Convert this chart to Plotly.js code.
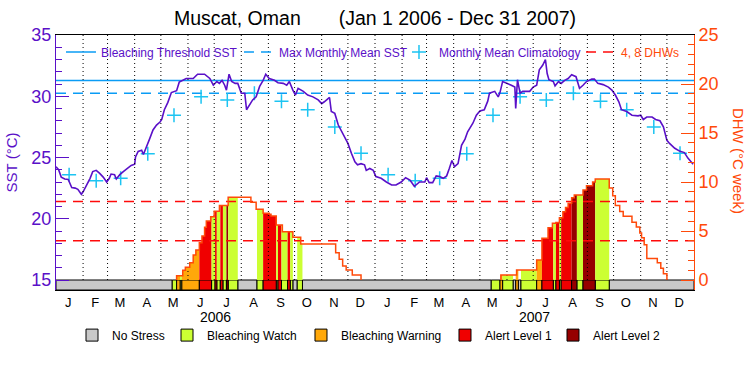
<!DOCTYPE html>
<html><head><meta charset="utf-8">
<script src="https://cdn.plot.ly/plotly-3.0.1.min.js"></script>
<style>html,body{margin:0;padding:0;background:#fff;}#chart{width:750px;height:375px;}</style>
</head><body><div id="chart"></div>
<script>
// ---------------- DATA ----------------
const periodStart = '2006-01-01';
const periodEnd = '2008-01-01';
const sstDates = ['2006-01-01','2006-01-04','2006-01-07','2006-01-11','2006-01-15','2006-01-19','2006-01-23','2006-01-26','2006-01-30','2006-02-01','2006-02-05','2006-02-09','2006-02-12','2006-02-16','2006-02-20','2006-02-24','2006-02-28','2006-03-03','2006-03-05','2006-03-09','2006-03-11','2006-03-15','2006-03-19','2006-03-24','2006-03-28','2006-04-01','2006-04-02','2006-04-05','2006-04-09','2006-04-11','2006-04-15','2006-04-18','2006-04-22','2006-04-26','2006-04-30','2006-05-02','2006-05-05','2006-05-09','2006-05-13','2006-05-19','2006-05-22','2006-05-26','2006-05-30','2006-06-07','2006-06-12','2006-06-20','2006-06-26','2006-06-30','2006-07-04','2006-07-07','2006-07-10','2006-07-13','2006-07-15','2006-07-18','2006-07-21','2006-07-25','2006-07-28','2006-08-01','2006-08-05','2006-08-07','2006-08-11','2006-08-14','2006-08-18','2006-08-22','2006-08-26','2006-08-29','2006-09-02','2006-09-08','2006-09-12','2006-09-18','2006-09-22','2006-09-25','2006-09-29','2006-10-02','2006-10-05','2006-10-11','2006-10-16','2006-10-22','2006-10-28','2006-11-01','2006-11-04','2006-11-10','2006-11-12','2006-11-16','2006-11-20','2006-11-25','2006-12-01','2006-12-05','2006-12-09','2006-12-12','2006-12-16','2006-12-20','2006-12-22','2006-12-26','2006-12-30',
'2007-01-02','2007-01-08','2007-01-14','2007-01-20','2007-01-25','2007-01-31','2007-02-05','2007-02-10','2007-02-15','2007-02-21','2007-02-27','2007-03-01','2007-03-04','2007-03-08','2007-03-12','2007-03-16','2007-03-20','2007-03-24','2007-03-27','2007-03-30','2007-04-02','2007-04-06','2007-04-10','2007-04-14','2007-04-17','2007-04-23','2007-04-27','2007-05-01','2007-05-06','2007-05-10','2007-05-12','2007-05-18','2007-05-22','2007-05-24','2007-05-27','2007-06-02','2007-06-06','2007-06-10','2007-06-11','2007-06-13','2007-06-16','2007-06-19','2007-06-27','2007-07-01','2007-07-05','2007-07-08','2007-07-12','2007-07-15','2007-07-17','2007-07-19','2007-07-24','2007-07-26','2007-07-30','2007-08-02','2007-08-06','2007-08-10','2007-08-14','2007-08-19','2007-08-23','2007-08-27','2007-08-31','2007-09-06','2007-09-09','2007-09-13','2007-09-19','2007-09-25','2007-09-29','2007-10-03','2007-10-07','2007-10-10','2007-10-16','2007-10-22','2007-10-29','2007-11-01','2007-11-04','2007-11-08','2007-11-14','2007-11-18','2007-11-23','2007-11-27','2007-12-01','2007-12-04','2007-12-10','2007-12-16','2007-12-21','2007-12-25','2007-12-29','2007-12-31'];
const sstValues = [24.25,24.0,23.4,23.25,23.2,22.55,22.5,22.4,22.0,22.2,22.75,23.3,23.85,23.95,23.7,23.4,23.0,23.3,23.65,23.6,23.25,23.6,23.85,24.1,24.35,24.45,25.05,25.5,25.6,25.25,25.9,26.5,27.25,27.65,27.9,28.1,28.9,29.5,30.3,30.45,31.15,31.3,31.45,31.45,31.8,31.8,31.45,30.9,31.2,31.05,31.3,30.9,30.5,31.8,31.2,31.05,31.05,30.25,30.25,28.9,29.3,29.7,29.95,30.8,31.3,31.8,31.45,31.3,31.1,31.05,30.9,31.2,30.5,30.1,30.65,30.4,30.1,29.95,29.7,29.4,29.55,29.9,28.75,28.6,27.65,26.95,26.15,25.35,24.65,24.4,24.5,24.4,23.95,24.1,23.95,
23.45,23.3,23.0,22.75,22.75,23.0,23.35,23.15,22.65,23.0,23.0,23.35,22.95,22.95,23.5,23.45,23.3,23.5,24.1,24.75,24.25,24.5,26.0,26.5,27.1,27.8,28.45,28.8,28.9,29.6,30.25,30.4,29.95,30.3,31.2,31.05,30.9,30.75,29.0,31.35,30.25,30.4,30.4,30.75,30.9,32.15,32.55,33.0,31.85,31.35,31.2,30.85,31.2,31.05,31.3,31.45,31.75,31.6,30.65,30.9,31.2,31.4,31.4,31.05,30.95,30.75,30.5,30.1,29.55,28.9,28.75,28.45,28.4,28.45,28.1,28.3,28.3,28.1,28.0,27.5,26.4,26.15,25.75,25.5,25.4,24.95,24.65,24.45];

const climMonthDay = 16;
const climValues = [23.6,23.1,23.3,25.3,28.45,29.95,29.7,30.25,29.6,28.9,27.5,25.35];
const climYears = [2006, 2007];

const maxMonthlyMean = 30.25;
const bleachingThreshold = 31.28;
const dhwLevels = [4, 8];

const dhwDates = ['2006-05-19','2006-05-26','2006-05-29','2006-06-03','2006-06-07','2006-06-10','2006-06-14','2006-06-17','2006-06-20','2006-06-22','2006-06-27','2006-07-01','2006-07-07','2006-07-17','2006-08-12','2006-08-18','2006-08-26','2006-09-02','2006-09-04','2006-09-10','2006-09-17','2006-09-29','2006-10-08','2006-11-17','2006-11-21','2006-11-25','2006-11-29','2006-12-06','2006-12-16',
'2007-05-25','2007-06-12','2007-07-05','2007-07-11','2007-07-18','2007-07-23','2007-07-27','2007-07-31','2007-08-04','2007-08-07','2007-08-10','2007-08-14','2007-08-17','2007-08-27','2007-08-31','2007-09-07','2007-09-10','2007-09-26','2007-09-30','2007-10-03','2007-10-08','2007-10-12','2007-10-22','2007-10-27','2007-10-31','2007-11-02','2007-11-05','2007-11-08','2007-11-20','2007-11-24','2007-11-27','2007-12-01'];
const dhwValues = [0.44,1.0,1.3,1.77,2.55,3.06,3.81,4.5,5.37,6.02,6.46,7.01,7.59,8.44,7.93,7.21,6.8,6.7,6.53,5.6,4.93,4.35,3.67,2.79,2.11,1.43,1.02,0.51,0,
0.5,1.02,2.04,4.25,5.34,5.78,5.88,6.35,6.97,7.41,7.82,8.4,8.67,9.18,9.63,10.0,10.3,9.4,8.6,7.6,7.0,6.5,5.9,5.4,4.8,4.3,3.6,2.2,1.75,1.2,0.65,0];

// status: 0 No Stress, 1 Watch, 2 Warning, 3 Alert 1, 4 Alert 2
const statusStart = ['2006-01-01','2006-05-14','2006-05-19','2006-05-23','2006-05-25','2006-06-14','2006-06-28','2006-07-02','2006-07-04','2006-07-08','2006-07-11','2006-07-15','2006-07-17','2006-07-28','2006-08-19','2006-08-26','2006-09-10','2006-09-12','2006-09-16','2006-09-23','2006-09-26','2006-09-29','2006-10-04','2006-10-10',
'2007-05-14','2007-05-24','2007-05-27','2007-06-08','2007-06-11','2007-06-14','2007-06-17','2007-07-05','2007-07-11','2007-07-24','2007-07-27','2007-07-31','2007-08-02','2007-08-14','2007-08-20','2007-08-27','2007-09-10','2007-09-26'];
const statusEnd = ['2006-05-14','2006-05-19','2006-05-23','2006-05-25','2006-06-14','2006-06-28','2006-07-02','2006-07-04','2006-07-08','2006-07-11','2006-07-15','2006-07-17','2006-07-28','2006-08-19','2006-08-26','2006-09-10','2006-09-12','2006-09-16','2006-09-23','2006-09-26','2006-09-29','2006-10-04','2006-10-10','2007-05-14',
'2007-05-24','2007-05-27','2007-06-08','2007-06-11','2007-06-14','2007-06-17','2007-07-05','2007-07-11','2007-07-24','2007-07-27','2007-07-31','2007-08-02','2007-08-14','2007-08-20','2007-08-27','2007-09-10','2007-09-26','2008-01-01'];
const statusLevel = [0,1,2,1,2,3,1,3,1,3,1,4,1,0,1,3,1,3,1,3,1,0,1,0,
1,2,1,0,2,0,1,2,3,1,3,1,3,4,1,4,1,0];
const statusNames = ['No Stress','Bleaching Watch','Bleaching Warning','Alert Level 1','Alert Level 2'];

const monthLetters = ['J','F','M','A','M','J','J','A','S','O','N','D'];
const yearLabels = ['2006','2007'];

// ---------------- STYLE ----------------
const FONT = 'Liberation Sans, Arial, sans-serif';
const PURPLE = '#5a10c8';
const ORANGE = '#ff4a0a';
const BLUE = '#0a9cf5';
const CYAN = '#1cc4f2';
const RED = '#ff0a0a';
const statusColors = ['#c8c8c8','#ccff33','#ffa80a','#f00000','#960000'];
const fillColors = [null,'#ccff33','#ffa80a','#f00000','#960000'];
const Y1MAX = 35, Y1MIN = 15 - 10/12.25;
const Y2MAX = 25, Y2MIN = -10/9.8;
const topLegendX = [0.0078, 0.2868, 0.5376, 0.8229];
const botLegendX = [0.0251, 0.1740, 0.3840, 0.6097, 0.7790];

const ms = s => Date.parse(s);
const t0 = ms(periodStart), t1 = ms(periodEnd);

const traces = [];

// --- DHW fills by status (y2) ---
const dT = dhwDates.map(ms);
function dhwAt(t){ let v = 0; for (let i=0;i<dT.length;i++){ if (dT[i] <= t) v = dhwValues[i]; } return v; }
for (let k=0;k<statusStart.length;k++){
  const lvl = statusLevel[k];
  if (!fillColors[lvl]) continue;
  const s = ms(statusStart[k]), e = ms(statusEnd[k]);
  const xs=[s], ys=[dhwAt(s)];
  for (let i=0;i<dT.length;i++){ if (dT[i]>s && dT[i]<e){ xs.push(dT[i]); ys.push(dhwValues[i]); } }
  xs.push(e); ys.push(dhwAt(e-1));
  traces.push({type:'scatter', x:xs, y:ys, yaxis:'y2', mode:'lines', line:{shape:'hv', width:0},
    fill:'tozeroy', fillcolor:fillColors[lvl], showlegend:false, hoverinfo:'skip'});
}

// --- month grid (dotted), above fills ---
const gx=[], gy=[];
for (let y=2006;y<=2007;y++) for (let m=0;m<12;m++){
  const t = Date.UTC(y,m,1);
  if (t<=t0) continue;
  gx.push(t,t,null); gy.push(0,Y2MAX,null);
}
traces.push({type:'scatter', x:gx, y:gy, yaxis:'y2', mode:'lines', line:{color:'#000', width:1, dash:'1px,3px'}, showlegend:false, hoverinfo:'skip'});

// --- top legend traces ---
traces.push({type:'scatter', x:[t0,t1], y:[bleachingThreshold,bleachingThreshold], mode:'lines', line:{color:BLUE, width:1.5}, name:'Bleaching Threshold SST', legend:'legend', hoverinfo:'skip'});
traces.push({type:'scatter', x:[t0,t1], y:[maxMonthlyMean,maxMonthlyMean], mode:'lines', line:{color:BLUE, width:1.5, dash:'10px,7px'}, name:'Max Monthly Mean SST', legend:'legend2', hoverinfo:'skip'});
const cx=[], cy=[];
climYears.forEach(y=>climValues.forEach((v,m)=>{ cx.push(Date.UTC(y,m,climMonthDay)); cy.push(v); }));
traces.push({type:'scatter', x:cx, y:cy, mode:'markers', marker:{symbol:'cross-thin', size:10, line:{color:CYAN, width:1.5}, color:CYAN}, name:'Monthly Mean Climatology', legend:'legend3', hoverinfo:'skip'});
const lx=[], ly=[];
dhwLevels.forEach(v=>{ lx.push(t0,t1,null); ly.push(v,v,null); });
traces.push({type:'scatter', x:lx, y:ly, yaxis:'y2', mode:'lines', line:{color:RED, width:1.5, dash:'10px,7px'}, name:'<span style="color:'+ORANGE+'">4, 8 DHWs</span>', legend:'legend4', hoverinfo:'skip'});

// --- DHW step outline ---
const sx=[], sy=[]; let prev=0;
for (let i=0;i<dT.length;i++){
  const v = dhwValues[i];
  if (prev===0 && v>0){ sx.push(dT[i]); sy.push(0); }
  sx.push(dT[i]); sy.push(v);
  if (v===0){ sx.push(null); sy.push(null); }
  prev = v;
}
traces.push({type:'scatter', x:sx, y:sy, yaxis:'y2', mode:'lines', line:{shape:'hv', color:ORANGE, width:1.5}, showlegend:false, hoverinfo:'skip'});

// --- status bar (y2, below 0) ---
for (let lvl=0; lvl<5; lvl++){
  const bx=[], bw=[], by=[], bb=[];
  for (let k=0;k<statusStart.length;k++){
    if (statusLevel[k]!==lvl) continue;
    const s = ms(statusStart[k]), e = ms(statusEnd[k]);
    bx.push((s+e)/2); bw.push(e-s); by.push(-Y2MIN); bb.push(Y2MIN);
  }
  traces.push({type:'bar', x:bx, y:by, base:bb, width:bw, yaxis:'y2', marker:{color:statusColors[lvl], line:{color:'#000', width:1}},
    name:statusNames[lvl], legend:'legend'+(5+lvl), hoverinfo:'skip'});
}

// --- SST line ---
traces.push({type:'scatter', x:sstDates, y:sstValues, mode:'lines', line:{color:PURPLE, width:1.6}, showlegend:false, hoverinfo:'skip'});

// --- axes ticks ---
const mTicks=[], mText=[];
for (let y=2006;y<=2007;y++) for (let m=0;m<12;m++){ mTicks.push(Date.UTC(y,m,15)); mText.push(monthLetters[m]); }
const y1minor=[]; for (let v=16; v<35; v++) if (v%5) y1minor.push(v);
const y2minor=[]; for (let v=1; v<25; v++) if (v%5) y2minor.push(v);

const layout = {
  width:750, height:375,
  margin:{l:56, r:56, t:35, b:85},
  paper_bgcolor:'#fff', plot_bgcolor:'#fff',
  font:{family:FONT, color:'#000'},
  barmode:'overlay',
  title:{text:'Muscat, Oman\u00a0\u00a0\u00a0\u00a0\u00a0\u00a0\u00a0(Jan 1 2006 - Dec 31 2007)', font:{size:19.5, color:'#000', family:FONT}, x:0.5, xanchor:'center', y:1-18/375, yanchor:'middle'},
  xaxis:{type:'date', range:[t0,t1], showgrid:false, zeroline:false, showline:true, mirror:true, linecolor:'#000', linewidth:1,
    ticks:'', tickmode:'array', tickvals:mTicks, ticktext:mText, tickfont:{size:13, color:'#000'}, fixedrange:true},
  yaxis:{range:[Y1MIN,Y1MAX], tickmode:'array', tickvals:[15,20,25,30,35], ticks:'inside', ticklen:13, tickwidth:1, tickcolor:PURPLE,
    minor:{tickmode:'array', tickvals:y1minor, ticks:'inside', ticklen:6, tickwidth:1, tickcolor:PURPLE},
    showline:true, linecolor:PURPLE, linewidth:1, showgrid:false, zeroline:false, tickfont:{size:18, color:PURPLE},
    title:{text:'SST (°C)', font:{size:15, color:PURPLE}, standoff:10}, fixedrange:true},
  yaxis2:{overlaying:'y', side:'right', range:[Y2MIN,Y2MAX], tickmode:'array', tickvals:[0,5,10,15,20,25], ticks:'inside', ticklen:13, tickwidth:1, tickcolor:ORANGE,
    minor:{tickmode:'array', tickvals:y2minor, ticks:'inside', ticklen:6, tickwidth:1, tickcolor:ORANGE},
    showline:true, linecolor:ORANGE, linewidth:1, showgrid:false, zeroline:false, tickfont:{size:18, color:ORANGE}, fixedrange:true},
  annotations:[
    {text:'DHW (°C week)', textangle:90, xref:'paper', yref:'paper', x:1.069, y:0.506, xanchor:'center', yanchor:'middle', showarrow:false, font:{size:15, color:ORANGE}},
    {text:yearLabels[0], xref:'x', yref:'paper', x:Date.UTC(2006,6,2), y:-0.104, xanchor:'center', yanchor:'middle', showarrow:false, font:{size:14, color:'#000'}},
    {text:yearLabels[1], xref:'x', yref:'paper', x:Date.UTC(2007,6,2), y:-0.104, xanchor:'center', yanchor:'middle', showarrow:false, font:{size:14, color:'#000'}}
  ]
};
const topNames = ['legend','legend2','legend3','legend4'];
topNames.forEach((n,i)=>{ layout[n] = {orientation:'h', x:topLegendX[i], xanchor:'left', y:0.99, yanchor:'top', font:{size:12, color:PURPLE, family:FONT}, bgcolor:'rgba(0,0,0,0)', itemwidth:30}; });
for (let i=0;i<5;i++){ layout['legend'+(5+i)] = {orientation:'h', x:botLegendX[i], xanchor:'left', y:-0.12, yanchor:'top', font:{size:12, color:'#000', family:FONT}, bgcolor:'rgba(0,0,0,0)', itemwidth:30}; }
Plotly.newPlot('chart', traces, layout, {staticPlot:true, displayModeBar:false});
</script></body></html>
